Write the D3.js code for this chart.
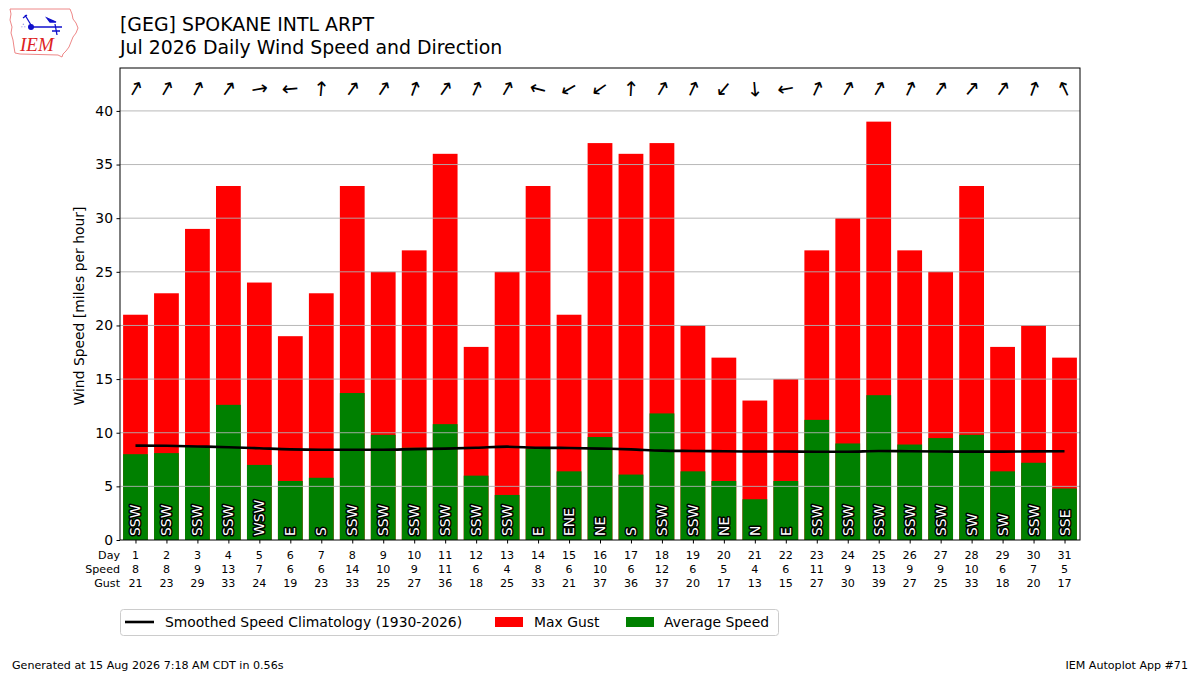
<!DOCTYPE html>
<html>
<head>
<meta charset="utf-8">
<script src="https://cdn.jsdelivr.net/npm/d3@7"></script>
<style>
  body { margin: 0; background: #fff; }
  svg { font-family: "DejaVu Sans", sans-serif; }
</style>
</head>
<body>
<svg id="chart" width="1200" height="675"></svg>
<script>
// day of month
const days = d3.range(1, 32);
// average speed (green), mph
const avgSpeed = [8.0, 8.1, 8.7, 12.6, 7.0, 5.5, 5.8, 13.7, 9.8, 8.6, 10.8, 6.0, 4.2, 8.5, 6.4,
  9.6, 6.1, 11.8, 6.4, 5.5, 3.8, 5.5, 11.2, 9.0, 13.5, 8.9, 9.5, 9.8, 6.4, 7.2, 4.8];
// max gust (red), mph
const maxGust = [21, 23, 29, 33, 24, 19, 23, 33, 25, 27, 36, 18, 25, 33, 21,
  37, 36, 37, 20, 17, 13, 15, 27, 30, 39, 27, 25, 33, 18, 20, 17];
// rounded speed shown in the tick labels
const speedLabel = [8, 8, 9, 13, 7, 6, 6, 14, 10, 9, 11, 6, 4, 8, 6,
  10, 6, 12, 6, 5, 4, 6, 11, 9, 13, 9, 9, 10, 6, 7, 5];
// prevailing direction text
const dirText = ["SSW", "SSW", "SSW", "SSW", "WSW", "E", "S", "SSW", "SSW", "SSW", "SSW", "SSW", "SSW", "E", "ENE",
  "NE", "S", "SSW", "SSW", "NE", "N", "E", "SSW", "SSW", "SSW", "SSW", "SSW", "SW", "SW", "SSW", "SSE"];
// angle the arrow points to, degrees clockwise from up
const arrowAngle = [30, 30, 28, 35, 80, 265, 5, 35, 33, 20, 35, 25, 30, 285, 240,
  235, 3, 30, 25, 220, 175, 260, 25, 30, 30, 25, 35, 40, 35, 20, 335];
// smoothed climatology
const climo = [8.8, 8.78, 8.72, 8.65, 8.55, 8.45, 8.42, 8.42, 8.42, 8.47, 8.52, 8.6, 8.7, 8.6, 8.58,
  8.52, 8.45, 8.33, 8.3, 8.27, 8.25, 8.25, 8.23, 8.23, 8.3, 8.27, 8.25, 8.24, 8.24, 8.26, 8.27];
const yTicks = [0, 5, 10, 15, 20, 25, 30, 35, 40];

const svg = d3.select("#chart");
const mL = 120, mR = 1080, mT = 68, mB = 540;

const x = d3.scaleLinear().domain([0.5, 31.5]).range([mL, mR]);
const y = d3.scaleLinear().domain([0, 44]).range([mB, mT]);
const bw = (x(1.4) - x(0.6));

// logo
const logo = svg.append("g");
logo.append("path")
  .attr("d", "M10,9 L70,9 L72,14 L73,19 L76,23 L78,28 L76,33 L73,37 L71,42 L69,47 L66,51 L63,54 L62,57 L58,55 L20,54 L15,53 L14,47 L13,40 L11,33 L12,27 L10,20 L11,14 Z")
  .attr("fill", "none").attr("stroke", "#ee8888").attr("stroke-width", 1);
logo.append("line").attr("x1", 30).attr("x2", 62).attr("y1", 27).attr("y2", 27)
  .attr("stroke", "#1010cc").attr("stroke-width", 1.5);
logo.append("circle").attr("cx", 31).attr("cy", 27).attr("r", 3).attr("fill", "#1010cc");
logo.append("path").attr("d", "M25,15 L31,25 M23,18 L27,15 M55,24 L57,35 M52,31 L60,31 M47,18 L56,22 L50,22 Z")
  .attr("stroke", "#1010cc").attr("stroke-width", 1.3).attr("fill", "#1010cc");
logo.append("text").attr("x", 21).attr("y", 28).attr("font-size", 7).attr("fill", "#1010cc").text("∴");
logo.append("text").attr("x", 20).attr("y", 51)
  .attr("font-family", "Liberation Serif, serif").attr("font-style", "italic")
  .attr("font-size", 19).attr("fill", "#dd2222").text("IEM");

// title
svg.append("text").attr("x", 120).attr("y", 31).attr("font-size", 18.9).text("[GEG] SPOKANE INTL ARPT");
svg.append("text").attr("x", 120).attr("y", 53.5).attr("font-size", 18.9).text("Jul 2026 Daily Wind Speed and Direction");

// bars
svg.append("g").selectAll("rect").data(days).join("rect")
  .attr("x", d => x(d) - bw / 2).attr("width", bw)
  .attr("y", (d, i) => y(maxGust[i])).attr("height", (d, i) => y(0) - y(maxGust[i]))
  .attr("fill", "#ff0000");
svg.append("g").selectAll("rect").data(days).join("rect")
  .attr("x", d => x(d) - bw / 2).attr("width", bw)
  .attr("y", (d, i) => y(avgSpeed[i])).attr("height", (d, i) => y(0) - y(avgSpeed[i]))
  .attr("fill", "#008000");

// grid over bars
svg.append("g").selectAll("line").data(yTicks.filter(t => t > 0)).join("line")
  .attr("x1", mL).attr("x2", mR)
  .attr("y1", d => y(d)).attr("y2", d => y(d))
  .attr("stroke", "#b0b0b0").attr("stroke-width", 0.9);

// climatology line
svg.append("path")
  .datum(days)
  .attr("d", d3.line().x(d => x(d)).y((d, i) => y(climo[i])).curve(d3.curveMonotoneX))
  .attr("fill", "none").attr("stroke", "#000").attr("stroke-width", 2.6);

// direction text
svg.append("g").selectAll("text").data(days).join("text")
  .attr("transform", d => `translate(${x(d)},536) rotate(-90)`)
  .attr("dominant-baseline", "central")
  .attr("font-size", 13.9)
  .attr("fill", "#fff").attr("stroke", "#000").attr("stroke-width", 3)
  .attr("paint-order", "stroke").attr("stroke-linejoin", "round")
  .text((d, i) => dirText[i]);

// arrows
svg.append("g").selectAll("text").data(days).join("text")
  .attr("transform", (d, i) => `translate(${x(d)},89) rotate(${arrowAngle[i]})`)
  .attr("text-anchor", "middle").attr("dominant-baseline", "central")
  .attr("font-size", 20)
  .text("↑");

// frame
svg.append("rect").attr("x", mL).attr("y", mT)
  .attr("width", mR - mL).attr("height", mB - mT)
  .attr("fill", "none").attr("stroke", "#000").attr("stroke-width", 1);

// y axis
const yAxis = d3.axisLeft(y).tickValues(yTicks).tickSize(3.5).tickPadding(3.5);
const ya = svg.append("g").attr("transform", `translate(${mL},0)`).call(yAxis);
ya.select(".domain").remove();
ya.selectAll("text").attr("font-size", 13.9).attr("font-family", "DejaVu Sans").attr("fill", "#000");

svg.append("text")
  .attr("transform", `translate(84,${(mT + mB) / 2 + 2}) rotate(-90)`)
  .attr("text-anchor", "middle").attr("font-size", 13.9)
  .text("Wind Speed [miles per hour]");

// x axis with three-line labels
const xAxis = d3.axisBottom(x).tickValues(days).tickSize(3.5).tickFormat("");
const xa = svg.append("g").attr("transform", `translate(0,${mB})`).call(xAxis);
xa.select(".domain").remove();
const rows = [days, speedLabel, maxGust];
const rowNames = ["Day", "Speed", "Gust"];
rows.forEach((vals, r) => {
  const yy = 559 + r * 14;
  svg.append("g").selectAll("text").data(vals).join("text")
    .attr("x", (d, i) => x(days[i])).attr("y", yy)
    .attr("text-anchor", "middle").attr("font-size", 11.1)
    .text(d => d);
  svg.append("text").attr("x", 120).attr("y", yy)
    .attr("text-anchor", "end").attr("font-size", 11.1).text(rowNames[r]);
});

// legend
const lg = svg.append("g");
lg.append("rect").attr("x", 120.5).attr("y", 609.5).attr("width", 658).attr("height", 26)
  .attr("rx", 3).attr("fill", "#fff").attr("stroke", "#cccccc");
lg.append("line").attr("x1", 125).attr("x2", 154).attr("y1", 622).attr("y2", 622)
  .attr("stroke", "#000").attr("stroke-width", 2.6);
lg.append("text").attr("x", 165).attr("y", 627).attr("font-size", 13.9).text("Smoothed Speed Climatology (1930-2026)");
lg.append("rect").attr("x", 495).attr("y", 617).attr("width", 28).attr("height", 10).attr("fill", "#ff0000");
lg.append("text").attr("x", 534).attr("y", 627).attr("font-size", 13.9).text("Max Gust");
lg.append("rect").attr("x", 626).attr("y", 617).attr("width", 28).attr("height", 10).attr("fill", "#008000");
lg.append("text").attr("x", 664).attr("y", 627).attr("font-size", 13.9).text("Average Speed");

// footer
svg.append("text").attr("x", 12).attr("y", 669).attr("font-size", 11.1)
  .text("Generated at 15 Aug 2026 7:18 AM CDT in 0.56s");
svg.append("text").attr("x", 1188).attr("y", 669).attr("text-anchor", "end").attr("font-size", 11.1)
  .text("IEM Autoplot App #71");
</script>
</body>
</html>
